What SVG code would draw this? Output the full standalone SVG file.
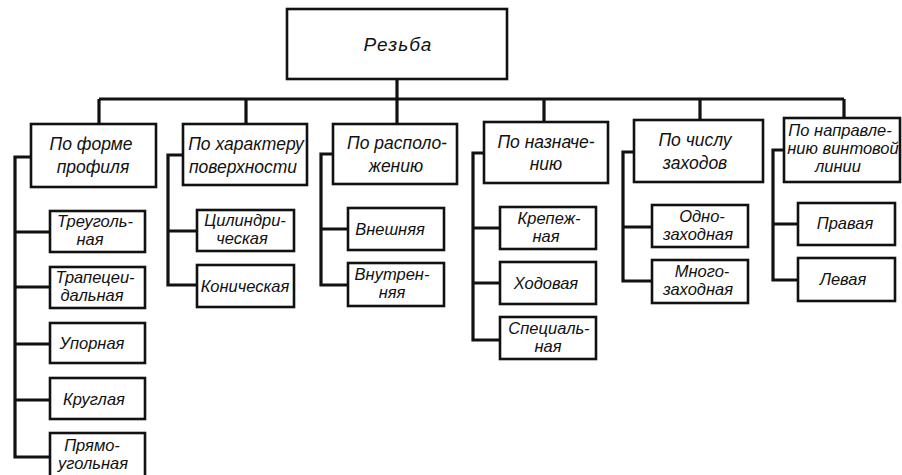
<svg xmlns="http://www.w3.org/2000/svg" width="902" height="475" viewBox="0 0 902 475">
<style>
.box{fill:#fff;stroke:#111;stroke-width:2.6}
.c{fill:none;stroke:#111;stroke-width:3.2;stroke-linejoin:miter}
text{font-family:"Liberation Sans","DejaVu Sans",sans-serif;font-style:italic;font-size:17.5px;fill:#111;text-anchor:middle}
.root{font-size:19px;letter-spacing:1px}
.s{font-size:16.5px}
.t{font-size:16.5px}
</style>
<rect width="902" height="475" fill="#fff"/>
<g id="connectors">
<path class="c" d="M397 79V100M99 99H844M99 99V124M246 99V124M397 99V124M544 99V122M700 99V120M844 99V118"/>
<path class="c" d="M31 157H15V457H50M15 232H50M15 287H50M15 344H50M15 400H50"/>
<path class="c" d="M183 155H168V285H197M168 231H197"/>
<path class="c" d="M333 154H321V285H348M321 229H348"/>
<path class="c" d="M484 153H473V340H500M473 228H500M473 283H500"/>
<path class="c" d="M634 152H623V281H652M623 227H652"/>
<path class="c" d="M784 150H773V280H798M773 224H798"/>
</g>
<g id="root"><rect class="box" x="287" y="9" width="220" height="70"/><text class="root" x="398" y="51">Резьба</text></g>
<g id="n1"><rect class="box" x="31" y="124" width="125" height="63"/><text x="91" y="150">По форме</text><text x="93" y="173">профиля</text></g>
<g id="n2"><rect class="box" x="183" y="124" width="124" height="61"/><text x="246" y="150">По характеру</text><text x="243" y="173">поверхности</text></g>
<g id="n3"><rect class="box" x="333" y="124" width="124" height="60"/><text x="397" y="149">По располо-</text><text x="396" y="172">жению</text></g>
<g id="n4"><rect class="box" x="484" y="122" width="124" height="61"/><text x="546" y="148">По назначе-</text><text x="546" y="170">нию</text></g>
<g id="n5"><rect class="box" x="634" y="120" width="129" height="62"/><text x="695" y="146">По числу</text><text x="695" y="169">заходов</text></g>
<g id="n6"><rect class="box" x="784" y="118" width="116" height="64"/><text class="t" x="840" y="136">По направле-</text><text class="t" x="843" y="154">нию винтовой</text><text class="t" x="838" y="172">линии</text></g>
<g id="a1"><rect class="box" x="50" y="211" width="95" height="41"/><text class="s" x="95" y="227">Треуголь-</text><text class="s" x="90" y="245">ная</text></g>
<g id="a2"><rect class="box" x="50" y="267" width="95" height="41"/><text class="s" x="95" y="283">Трапецеи-</text><text class="s" x="92" y="301">дальная</text></g>
<g id="a3"><rect class="box" x="50" y="323" width="95" height="40"/><text class="s" x="92" y="349">Упорная</text></g>
<g id="a4"><rect class="box" x="50" y="378" width="95" height="41"/><text class="s" x="94" y="405">Круглая</text></g>
<g id="a5"><rect class="box" x="50" y="433" width="95" height="50"/><text class="s" x="92" y="451">Прямо-</text><text class="s" x="93" y="469">угольная</text></g>
<g id="b1"><rect class="box" x="197" y="210" width="97" height="41"/><text class="s" x="245" y="226">Цилиндри-</text><text class="s" x="242" y="244">ческая</text></g>
<g id="b2"><rect class="box" x="197" y="265" width="97" height="42"/><text class="s" x="245" y="292">Коническая</text></g>
<g id="c1"><rect class="box" x="348" y="208" width="96" height="42"/><text class="s" x="390" y="235">Внешняя</text></g>
<g id="c2"><rect class="box" x="348" y="263" width="96" height="43"/><text class="s" x="392" y="280">Внутрен-</text><text class="s" x="392" y="298">няя</text></g>
<g id="d1"><rect class="box" x="500" y="207" width="96" height="42"/><text class="s" x="549" y="224">Крепеж-</text><text class="s" x="546" y="242">ная</text></g>
<g id="d2"><rect class="box" x="500" y="262" width="96" height="42"/><text class="s" x="546" y="289">Ходовая</text></g>
<g id="d3"><rect class="box" x="500" y="317" width="96" height="42"/><text class="s" x="549" y="334">Специаль-</text><text class="s" x="548" y="352">ная</text></g>
<g id="e1"><rect class="box" x="652" y="205" width="96" height="42"/><text class="s" x="702" y="222">Одно-</text><text class="s" x="698" y="240">заходная</text></g>
<g id="e2"><rect class="box" x="652" y="260" width="96" height="43"/><text class="s" x="702" y="277">Много-</text><text class="s" x="698" y="295">заходная</text></g>
<g id="f1"><rect class="box" x="798" y="203" width="97" height="42"/><text class="s" x="845" y="229">Правая</text></g>
<g id="f2"><rect class="box" x="798" y="258" width="97" height="43"/><text class="s" x="843" y="285">Левая</text></g>
</svg>
